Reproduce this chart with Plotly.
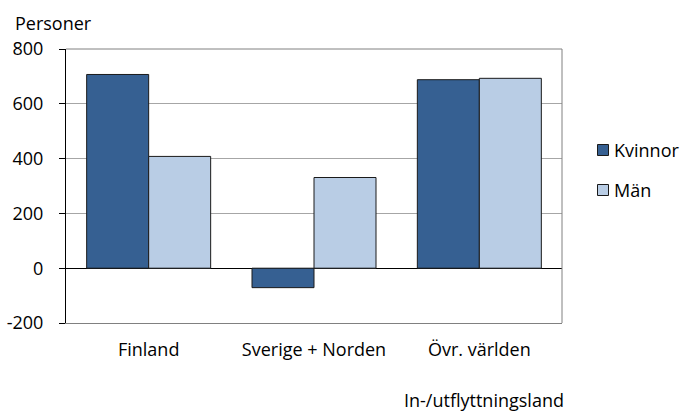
import plotly.graph_objects as go

categories = ["Finland", "Sverige + Norden", "Övr. världen"]
kvinnor = [707, -71, 688]
man = [408, 331, 693]
y_ticks = [-200, 0, 200, 400, 600, 800]
y_ticktext = ["-200", "0", "200", "400", "600", "800"]
series_names = ["Kvinnor", "Män"]
series_colors = ["#366092", "#B9CDE5"]

FONT = "Open Sans"
FS = 18
L, R, T, B = 66, 120, 49, 93
W, H = 682, 416
PW, PH = W - L - R, H - T - B

fig = go.Figure()
for name, vals, col in zip(series_names, [kvinnor, man], series_colors):
    fig.add_trace(go.Bar(name=name, x=categories, y=vals,
                         marker=dict(color=col, line=dict(color="#1a1a1a", width=1)),
                         showlegend=False))

def px_x(p):
    return (p - L) / PW

def px_y(p):
    return (H - B - p) / PH

shapes = [dict(type="line", xref="paper", yref="paper", x0=1, x1=1, y0=0, y1=1,
               line=dict(color="#808080", width=1)),
          dict(type="line", xref="paper", yref="paper", x0=0, x1=1, y0=1, y1=1,
               line=dict(color="#808080", width=1))]
annotations = [
    dict(text="Personer", xref="paper", yref="paper", x=px_x(13), y=px_y(23),
         xanchor="left", yanchor="middle", showarrow=False, font=dict(family=FONT, size=FS)),
    dict(text="In-/utflyttningsland", xref="paper", yref="paper", x=px_x(566), y=px_y(400),
         xanchor="right", yanchor="middle", showarrow=False, font=dict(family=FONT, size=FS)),
]
for i, (name, col) in enumerate(zip(series_names, series_colors)):
    cy = 150 + 40 * i
    shapes.append(dict(type="rect", xref="paper", yref="paper",
                       x0=px_x(597.5), x1=px_x(608.5), y0=px_y(cy + 5.5), y1=px_y(cy - 5.5),
                       fillcolor=col, line=dict(color="#1a1a1a", width=1)))
    annotations.append(dict(text=name, xref="paper", yref="paper", x=px_x(612), y=px_y(cy),
                            xanchor="left", yanchor="middle", showarrow=False,
                            font=dict(family=FONT, size=FS)))

fig.update_layout(
    width=W, height=H,
    margin=dict(l=L, r=R, t=T, b=B, autoexpand=False),
    paper_bgcolor="white", plot_bgcolor="white",
    barmode="group", bargap=0.25, bargroupgap=0,
    font=dict(family=FONT, size=FS, color="#000000"),
    showlegend=False,
    xaxis=dict(showgrid=False, showline=True, linecolor="#808080", linewidth=1,
               mirror=False, ticks="", tickfont=dict(size=FS), automargin=False,
               ticklabelstandoff=10),
    yaxis=dict(range=[-200, 800], tickvals=y_ticks, ticktext=y_ticktext, showgrid=True,
               gridcolor="#a6a6a6", gridwidth=1, showline=True,
               linecolor="#000000", linewidth=1, mirror=False,
               ticks="outside", ticklen=6, tickcolor="#000000",
               zeroline=True, zerolinecolor="#000000", zerolinewidth=1,
               tickfont=dict(size=FS), automargin=False, ticklabelstandoff=12),
    shapes=shapes,
    annotations=annotations,
)
fig.write_html("out.html", config={"displayModeBar": False},
               post_script="document.body.style.margin='0px';")
